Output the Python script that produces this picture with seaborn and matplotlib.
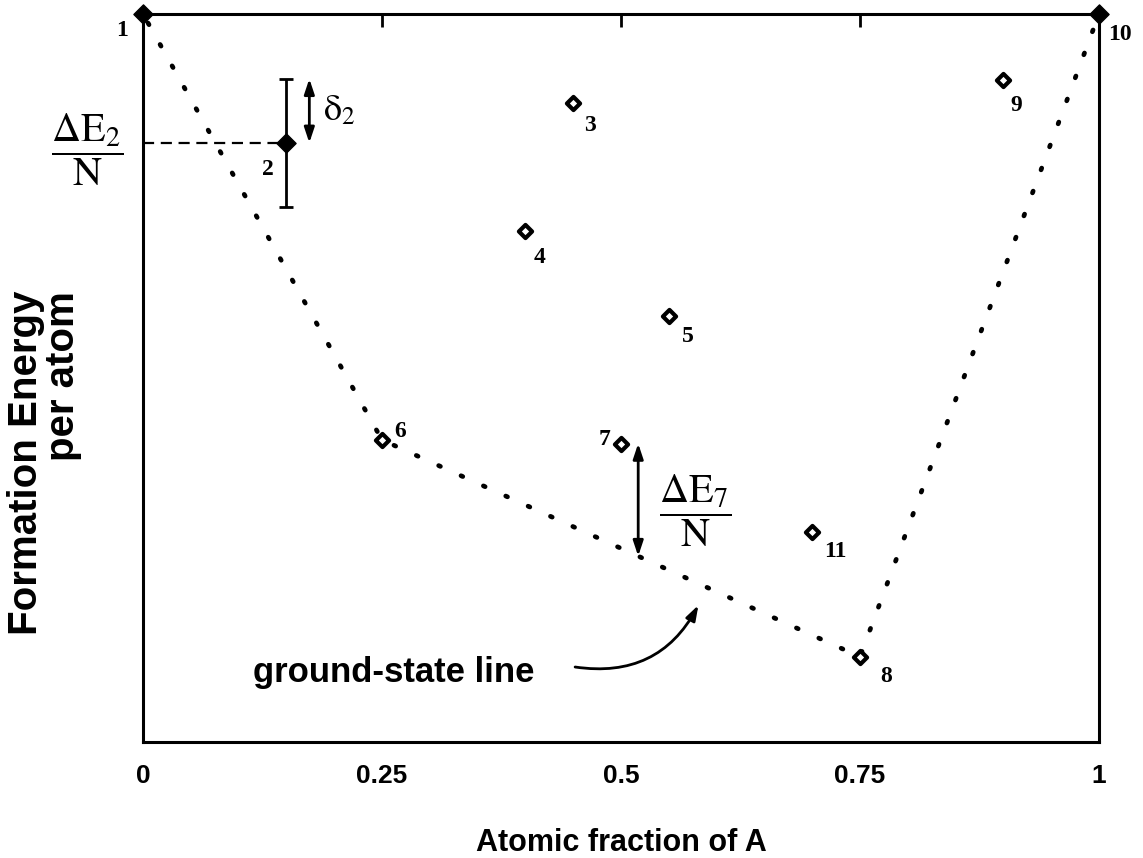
import numpy as np
import pandas as pd
import matplotlib
matplotlib.use("Agg")
import matplotlib.pyplot as plt
import seaborn as sns

# structures: label, atomic fraction of A, formation energy per atom (arb. units)
labels = ["1", "2", "3", "4", "5", "6", "7", "8", "9", "10", "11"]
frac = [0.0, 0.15, 0.45, 0.40, 0.55, 0.25, 0.50, 0.75, 0.90, 1.0, 0.70]
energy = [0.0, -0.177, -0.122, -0.298, -0.415, -0.585, -0.590, -0.883, -0.091, 0.0, -0.712]
filled = [True, True, False, False, False, False, False, False, False, True, False]

# structures on the ground-state (convex hull) line
hull_ids = ["1", "6", "8", "10"]
# uncertainty on structure 2
delta2 = 0.088

xticks = [0, 0.25, 0.5, 0.75, 1]
xticklabels = ["0", "0.25", "0.5", "0.75", "1"]

df = pd.DataFrame({"label": labels, "frac": frac, "energy": energy, "filled": filled})
hull = df.set_index("label").loc[hull_ids].reset_index()

sns.set_style("white")
plt.rcParams["font.family"] = ["Liberation Sans", "DejaVu Sans"]
plt.rcParams["mathtext.fontset"] = "stix"
plt.rcParams["text.color"] = "black"
plt.rcParams["axes.labelcolor"] = "black"
plt.rcParams["xtick.color"] = "black"

fig = plt.figure(figsize=(11.43, 8.58), dpi=100)
ax = fig.add_axes([0.1251, 0.1352, 0.8364, 0.8485])

# ground-state line (dotted)
sns.lineplot(data=hull, x="frac", y="energy", sort=False, color="black", lw=3.4,
             linestyle=(3, (0.4, 4.8)), dash_capstyle="round", ax=ax, zorder=2)

# dashed guide from axis to structure 2, and its error bar
e2 = df.loc[1]
ax.plot([0, e2.frac], [e2.energy, e2.energy], color="black", lw=1.6,
        dashes=(5, 3), zorder=2)
ax.errorbar(e2.frac, e2.energy, yerr=delta2, fmt="none", ecolor="black",
            elinewidth=2.0, capsize=5, capthick=2.0, zorder=3)

# structures
sns.scatterplot(data=df[~df.filled], x="frac", y="energy", marker="D", s=45,
                color="white", edgecolor="black", linewidth=3.0, ax=ax,
                zorder=4, clip_on=False)
sns.scatterplot(data=df[df.filled], x="frac", y="energy", marker="D", s=95,
                color="black", edgecolor="black", linewidth=1, ax=ax,
                zorder=5, clip_on=False)

# numbers next to structures (offset points)
offsets = {"1": (-15, -12), "2": (-13, -19), "3": (12, -16), "4": (10, -19),
           "5": (14, -15), "6": (13, 6), "7": (-12, 3), "8": (19, -14),
           "9": (9, -18), "10": (15, -15), "11": (17, -14)}
for _, r in df.iterrows():
    ax.annotate(r.label, (r.frac, r.energy), xytext=offsets[r.label],
                textcoords="offset points", ha="center", va="center",
                fontsize=17, family="Liberation Serif", fontweight="bold")

arrow2 = dict(arrowstyle="<|-|>,head_length=0.9,head_width=0.3", color="black",
              lw=2.0, shrinkA=0, shrinkB=0)

# delta_2 arrow
xd = e2.frac + 0.024
ax.annotate("", xy=(xd, e2.energy + delta2), xytext=(xd, e2.energy), arrowprops=arrow2)
ax.annotate(r"$\mathrm{\delta}_2$", (xd, e2.energy + delta2 / 2), xytext=(10, 0),
            textcoords="offset points", ha="left", va="center", fontsize=26)

# Delta E_2 / N
ax.annotate(r"$\dfrac{\Delta\mathrm{E}_2}{\mathrm{N}}$", (0, e2.energy),
            xytext=(-40, -5), textcoords="offset points", ha="center",
            va="center", fontsize=29)

# Delta E_7 / N arrow down to the ground-state line
e7 = df.loc[6]
x7 = e7.frac + 0.018
hull_y7 = np.interp(x7, hull.frac, hull.energy)
ax.annotate("", xy=(x7, hull_y7), xytext=(x7, e7.energy), arrowprops=arrow2)
ax.annotate(r"$\dfrac{\Delta\mathrm{E}_7}{\mathrm{N}}$", (e7.frac, e7.energy),
            xytext=(53, -48), textcoords="offset points", ha="center",
            va="center", fontsize=29)

# ground-state line label with curved arrow
ax.annotate("", xy=(0.581, -0.812), xytext=(0.452, -0.897),
            arrowprops=dict(arrowstyle="-|>,head_length=0.9,head_width=0.3",
                            color="black", lw=2.0, shrinkA=0, shrinkB=0,
                            connectionstyle="arc3,rad=0.35"))
ax.text(0.41, -0.904, "ground-state line", ha="right", va="center",
        fontsize=25, fontweight="bold")

ax.set_xlim(0, 1)
ax.set_ylim(-1, 0)
ax.set_xticks(xticks)
ax.set_xticklabels(xticklabels, fontsize=19, fontweight="bold")
ax.set_yticks([])
ax.tick_params(axis="x", direction="in", length=9.5, width=2, top=True, pad=16)
for s in ax.spines.values():
    s.set_linewidth(2.2)
    s.set_color("black")

ax.set_xlabel("Atomic fraction of A", fontsize=22, fontweight="bold", labelpad=29)
ax.set_ylabel("Formation Energy\nper atom", fontsize=29, fontweight="bold",
              multialignment="right", linespacing=0.95)
ax.yaxis.set_label_coords(-0.064, 0.383)

fig.savefig("out.png", dpi=100, facecolor="white")
